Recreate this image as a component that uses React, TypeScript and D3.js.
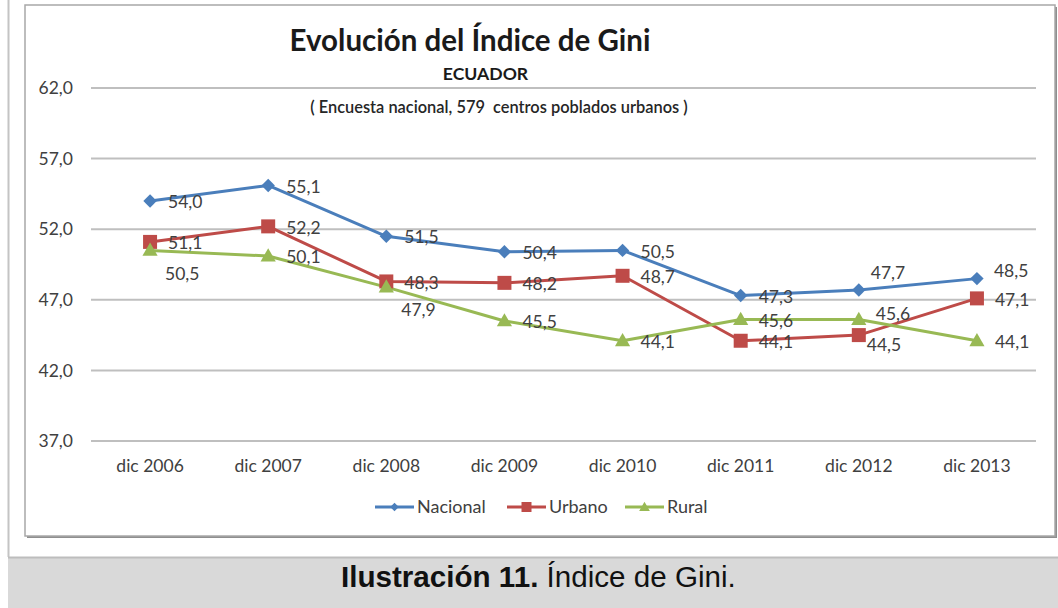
import { useEffect, useRef } from 'react';
import * as d3 from 'd3';

// Chart values
const categories = ["dic 2006", "dic 2007", "dic 2008", "dic 2009", "dic 2010", "dic 2011", "dic 2012", "dic 2013"];
const nacional = [54.0, 55.1, 51.5, 50.4, 50.5, 47.3, 47.7, 48.5];
const urbano = [51.1, 52.2, 48.3, 48.2, 48.7, 44.1, 44.5, 47.1];
const rural = [50.5, 50.1, 47.9, 45.5, 44.1, 45.6, 45.6, 44.1];
const yTicks = [37, 42, 47, 52, 57, 62];
const seriesNames = ["Nacional", "Urbano", "Rural"];

// Colors (Excel 2010 palette)
const COLOR_NAC = "#4A7EBB";
const COLOR_URB = "#BE4B48";
const COLOR_RUR = "#98B954";
const COLOR_TEXT = "#404040";
const COLOR_GRID = "#BFBFBF";

// where each data label sits relative to its marker: R right, B below, A above, a slightly above
const labelPlacement: Record<string, string[]> = {
  Nacional: ["R", "R", "R", "R", "R", "R", "A", "a"],
  Urbano: ["R", "R", "R", "R", "R", "R", "b", "R"],
  Rural: ["B", "R", "B", "R", "R", "R", "u", "R"],
};

const FONT = "Lato, 'Open Sans', sans-serif";

function labelOffset(code: string): [number, number] {
  switch (code) {
    case "B": return [15, 23];
    case "A": return [12, -17];
    case "a": return [17, -8];
    case "b": return [8, 10];
    case "u": return [17, -6];
    default: return [18, 1];
  }
}

export default function App() {
  const svgRef = useRef<SVGSVGElement>(null);

  useEffect(() => {
    if (!svgRef.current) return;
    const svg = d3.select(svgRef.current);
    svg.selectAll("*").remove();

    const width = 1058;
    const height = 608;

    // outer page decorations
    svg.append("rect").attr("width", width).attr("height", height).attr("fill", "#fff");
    svg.append("line")
      .attr("x1", 8.5).attr("x2", 8.5).attr("y1", 0).attr("y2", 557)
      .attr("stroke", "#c4c4c4").attr("stroke-width", 2);
    svg.append("rect")
      .attr("x", 8).attr("y", 557).attr("width", width - 8).attr("height", height - 557)
      .attr("fill", "#d9d9d9");
    svg.append("line")
      .attr("x1", 8).attr("x2", width).attr("y1", 557.5).attr("y2", 557.5)
      .attr("stroke", "#bdbdbd").attr("stroke-width", 2);

    // chart frame with a light shadow
    svg.append("rect")
      .attr("x", 27).attr("y", 7).attr("width", 1030).attr("height", 531)
      .attr("fill", "#8f8f8f");
    svg.append("rect")
      .attr("x", 25).attr("y", 5).attr("width", 1030).attr("height", 531)
      .attr("fill", "#fff").attr("stroke", "#a8a8a8").attr("stroke-width", 1.5);

    // scales
    const x = d3.scalePoint<string>().domain(categories).range([91, 1036]).padding(0.5);
    const y = d3.scaleLinear().domain([37, 62]).range([441, 88]);

    // gridlines
    svg.append("g")
      .selectAll("line")
      .data(yTicks)
      .join("line")
      .attr("x1", 91).attr("x2", 1036)
      .attr("y1", d => y(d)).attr("y2", d => y(d))
      .attr("stroke", COLOR_GRID).attr("stroke-width", 2);

    // y tick labels
    svg.append("g")
      .attr("text-anchor", "end")
      .attr("font-family", FONT)
      .attr("font-size", 17.5)
      .attr("fill", COLOR_TEXT)
      .selectAll("text")
      .data(yTicks)
      .join("text")
      .attr("x", 73)
      .attr("y", d => y(d))
      .attr("dy", "0.35em")
      .text(d => d3.format(".1f")(d).replace(".", ","));

    // x category labels
    svg.append("g")
      .attr("text-anchor", "middle")
      .attr("font-family", FONT)
      .attr("font-size", 17.5)
      .attr("fill", COLOR_TEXT)
      .selectAll("text")
      .data(categories)
      .join("text")
      .attr("x", d => x(d)!)
      .attr("y", 466)
      .attr("dy", "0.35em")
      .text(d => d);

    // titles
    svg.append("text")
      .attr("x", 470).attr("y", 51)
      .attr("text-anchor", "middle")
      .attr("font-family", FONT).attr("font-weight", "bold").attr("font-size", 29.5)
      .attr("fill", "#1a1a1a")
      .text("Evolución del Índice de Gini");
    svg.append("text")
      .attr("x", 485.5).attr("y", 80)
      .attr("text-anchor", "middle")
      .attr("font-family", FONT).attr("font-weight", "bold").attr("font-size", 17.6)
      .attr("fill", "#1a1a1a")
      .text("ECUADOR");
    svg.append("text")
      .attr("x", 499).attr("y", 113)
      .attr("text-anchor", "middle")
      .attr("font-family", FONT).attr("font-weight", 600).attr("font-size", 16.4)
      .attr("fill", "#262626")
      .style("white-space", "pre")
      .text("( Encuesta nacional, 579  centros poblados urbanos )");

    const series = [
      { name: seriesNames[0], values: nacional, color: COLOR_NAC, shape: "diamond" },
      { name: seriesNames[1], values: urbano, color: COLOR_URB, shape: "square" },
      { name: seriesNames[2], values: rural, color: COLOR_RUR, shape: "triangle" },
    ];

    const symbolPath = (shape: string, big: boolean) => {
      if (shape === "diamond") return d3.symbol(d3.symbolSquare, big ? 90 : 36)();
      if (shape === "square") return d3.symbol(d3.symbolSquare, big ? 196 : 100)();
      return d3.symbol(d3.symbolTriangle, big ? 100 : 50)();
    };

    const line = d3.line<number>()
      .x((_, i) => x(categories[i])!)
      .y(d => y(d));

    // lines first, then markers, then labels
    series.forEach(s => {
      svg.append("path")
        .attr("d", line(s.values))
        .attr("fill", "none")
        .attr("stroke", s.color)
        .attr("stroke-width", 3)
        .attr("stroke-linejoin", "round");
    });

    series.forEach(s => {
      svg.append("g")
        .selectAll("path")
        .data(s.values)
        .join("path")
        .attr("d", symbolPath(s.shape, true))
        .attr("transform", (d, i) =>
          `translate(${x(categories[i])},${y(d) + (s.shape === "triangle" ? 1 : 0)})${s.shape === "diamond" ? " rotate(45)" : ""}`)
        .attr("fill", s.color);
    });

    series.forEach(s => {
      svg.append("g")
        .attr("font-family", FONT)
        .attr("font-size", 17.5)
        .attr("fill", COLOR_TEXT)
        .selectAll("text")
        .data(s.values)
        .join("text")
        .attr("x", (d, i) => x(categories[i])! + labelOffset(labelPlacement[s.name][i])[0])
        .attr("y", (d, i) => y(d) + labelOffset(labelPlacement[s.name][i])[1])
        .attr("dy", "0.35em")
        .text(d => d3.format(".1f")(d).replace(".", ","));
    });

    // legend
    const legendX = [375, 507, 625];
    const legend = svg.append("g").attr("font-family", FONT).attr("font-size", 18).attr("fill", COLOR_TEXT);
    series.forEach((s, i) => {
      const g = legend.append("g").attr("transform", `translate(${legendX[i]},507)`);
      g.append("line").attr("x1", 0).attr("x2", 39).attr("stroke", s.color).attr("stroke-width", 3);
      g.append("path")
        .attr("d", symbolPath(s.shape, false))
        .attr("transform", `translate(19.5,${s.shape === "triangle" ? 1 : 0})${s.shape === "diamond" ? " rotate(45)" : ""}`)
        .attr("fill", s.color);
      g.append("text").attr("x", 42).attr("dy", "0.35em").text(s.name);
    });

    // caption
    const cap = svg.append("text")
      .attr("x", 341).attr("y", 587)
      .attr("font-family", "'Liberation Sans', Arial, sans-serif")
      .attr("font-size", 29.6)
      .attr("fill", "#111");
    cap.append("tspan").attr("font-weight", "bold").text("Ilustración 11.");
    cap.append("tspan").text(" Índice de Gini.");
  }, []);

  return (
    <svg
      ref={svgRef}
      width={1058}
      height={608}
      style={{ position: 'absolute', left: 0, top: 0, display: 'block' }}
    />
  );
}
